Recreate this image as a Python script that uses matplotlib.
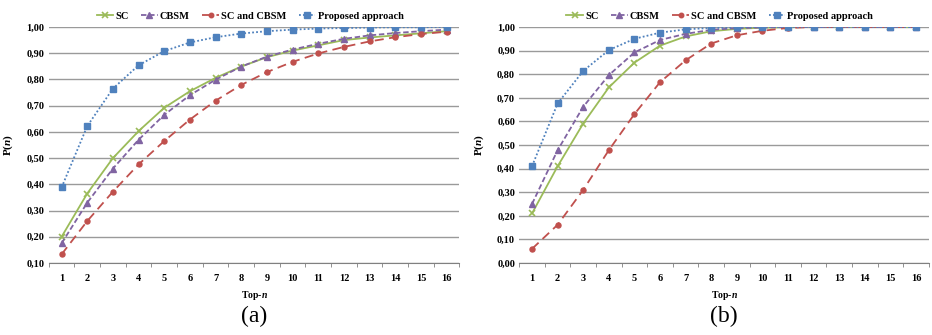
import numpy as np
import matplotlib.pyplot as plt
from matplotlib.ticker import FuncFormatter

plt.rcParams['font.family'] = ['Liberation Serif', 'DejaVu Serif']
plt.rcParams['mathtext.fontset'] = 'custom'
plt.rcParams['mathtext.it'] = 'Liberation Serif:italic:bold'
plt.rcParams['mathtext.bf'] = 'Liberation Serif:bold'

top_n = list(range(1, 17))

# panel (a)
a_sc = [0.200, 0.365, 0.500, 0.603, 0.692, 0.755, 0.806, 0.849, 0.885, 0.910, 0.930, 0.950, 0.960, 0.968, 0.976, 0.984]
a_cbsm = [0.175, 0.330, 0.460, 0.570, 0.665, 0.740, 0.799, 0.849, 0.887, 0.914, 0.936, 0.955, 0.968, 0.977, 0.984, 0.990]
a_both = [0.133, 0.260, 0.372, 0.476, 0.565, 0.647, 0.719, 0.779, 0.828, 0.867, 0.899, 0.924, 0.945, 0.961, 0.973, 0.982]
a_prop = [0.388, 0.622, 0.765, 0.854, 0.908, 0.941, 0.961, 0.975, 0.984, 0.990, 0.994, 0.996, 0.998, 0.999, 0.999, 1.000]

# panel (b)
b_sc = [0.210, 0.410, 0.591, 0.744, 0.849, 0.921, 0.960, 0.982, 0.992, 0.997, 0.999, 1.0, 1.0, 1.0, 1.0, 1.0]
b_cbsm = [0.250, 0.478, 0.662, 0.796, 0.892, 0.945, 0.971, 0.988, 0.995, 0.998, 1.0, 1.0, 1.0, 1.0, 1.0, 1.0]
b_both = [0.060, 0.162, 0.310, 0.478, 0.631, 0.766, 0.859, 0.930, 0.965, 0.984, 0.996, 1.0, 1.0, 1.0, 1.0, 1.0]
b_prop = [0.410, 0.676, 0.814, 0.902, 0.950, 0.976, 0.990, 0.996, 0.999, 1.0, 1.0, 1.0, 1.0, 1.0, 1.0, 1.0]

labels = ["SC", "CBSM", "SC and CBSM", "Proposed approach"]
styles = [
    dict(color='#9BBB59', linestyle='-', marker='x', ms=4.5, mew=1.2),
    dict(color='#8064A2', linestyle=(0, (3, 1.5)), marker='^', ms=4.5),
    dict(color='#C0504D', linestyle=(0, (5, 3)), marker='o', ms=3.6),
    dict(color='#4F81BD', linestyle=(0, (1, 1.2)), marker='s', ms=4.8),
]

fig = plt.figure(figsize=(9.32, 3.35), dpi=100)
ax_a = fig.add_axes([0.0523, 0.2149, 0.4406, 0.7045])
ax_b = fig.add_axes([0.5571, 0.2149, 0.4395, 0.7045])

comma_fmt = FuncFormatter(lambda v, p: f"{v:.2f}".replace('.', ','))


def draw_panel(ax, series, ylo, caption):
    for vals, lab, st in zip(series, labels, styles):
        ax.plot(top_n, vals, label=lab, lw=1.3, **st)
    ax.set_xlim(0.5, 16.5)
    ax.set_ylim(ylo, 1.0)
    ax.set_yticks(np.arange(ylo, 1.001, 0.1))
    ax.yaxis.set_major_formatter(comma_fmt)
    ax.set_xticks(top_n)
    ax.set_xticks(np.arange(0.5, 16.6, 1), minor=True)
    ax.tick_params(axis='x', which='major', length=0, labelsize=7.5, pad=8)
    ax.tick_params(axis='x', which='minor', length=3, color='#808080', direction='out')
    ax.tick_params(axis='y', length=0, labelsize=7.5, pad=3)
    for t in ax.get_xticklabels() + ax.get_yticklabels():
        t.set_fontweight('bold')
    ax.grid(axis='y', color='#9A9A9A', lw=1.0)
    ax.set_axisbelow(True)
    for s in ['top', 'right', 'left']:
        ax.spines[s].set_visible(False)
    ax.spines['bottom'].set_color('#808080')
    ax.set_xlabel(r"Top-$\mathit{n}$", fontsize=7, fontweight='bold', labelpad=4)
    ax.set_ylabel(r"P($\mathit{n}$)", fontsize=8, fontweight='bold', labelpad=8)
    ax.legend(loc='lower center', bbox_to_anchor=(0.49, 1.0), ncol=4, frameon=False,
              prop={'weight': 'bold', 'size': 7.5}, handlelength=1.6, columnspacing=1.2,
              handletextpad=0.2, borderaxespad=0.2, markerscale=0.9)
    ax.text(0.5, -0.18, caption, transform=ax.transAxes, ha='center', va='top', fontsize=17)


draw_panel(ax_a, [a_sc, a_cbsm, a_both, a_prop], 0.1, "(a)")
draw_panel(ax_b, [b_sc, b_cbsm, b_both, b_prop], 0.0, "(b)")

fig.savefig("out.png", dpi=100)
